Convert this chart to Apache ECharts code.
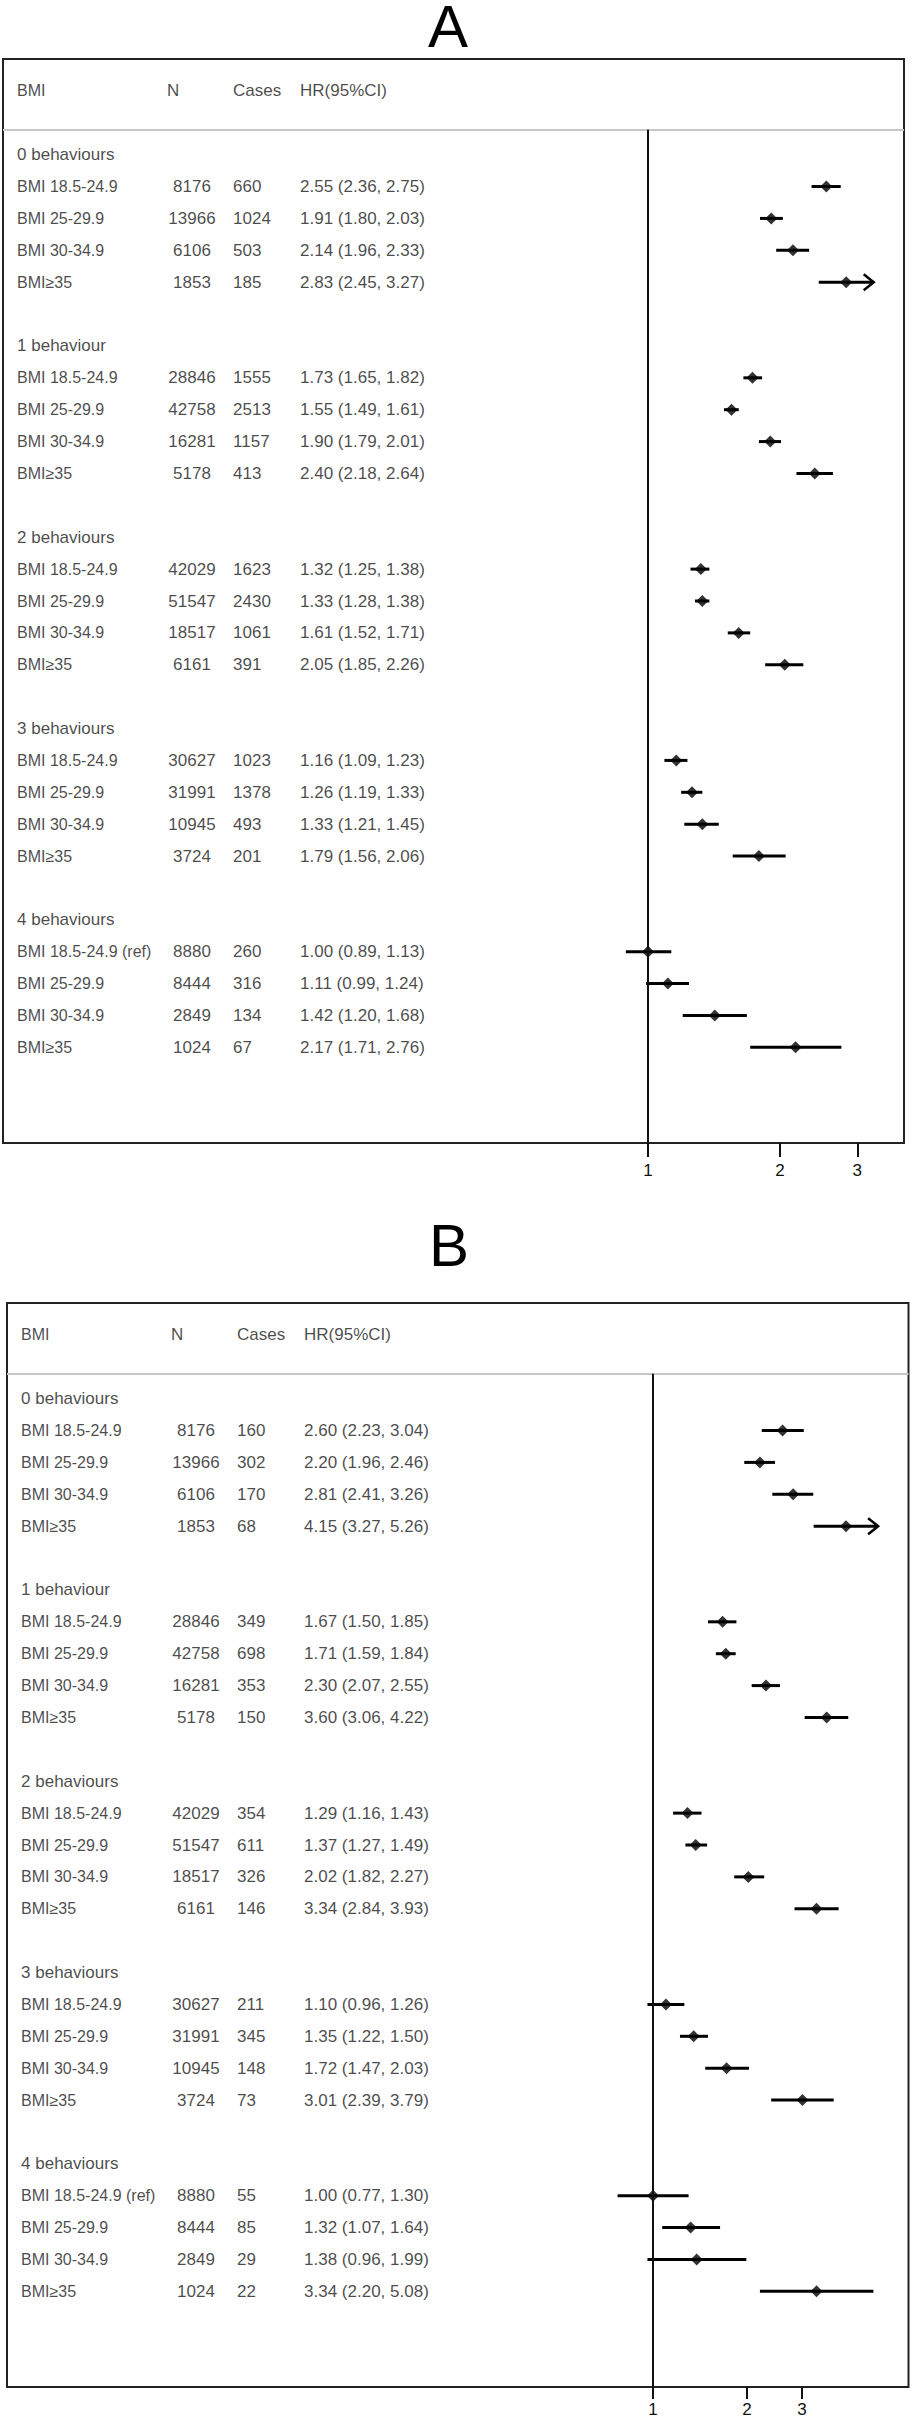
<!DOCTYPE html>
<html>
<head>
<meta charset="utf-8">
<title>BMI and healthy behaviours forest plot</title>
<script src="https://cdn.jsdelivr.net/npm/echarts@6/dist/echarts.min.js"></script>
<style>
  html, body { margin: 0; padding: 0; background: #fff; }
  #chart { width: 913px; height: 2431px; }
</style>
</head>
<body>
<div id="chart"></div>
<script>
// Row labels
const groups = ['0 behaviours', '1 behaviour', '2 behaviours', '3 behaviours', '4 behaviours'];
const bmiCats = ['BMI 18.5-24.9', 'BMI 25-29.9', 'BMI 30-34.9', 'BMI≥35'];
const refRow = 16; // 4 behaviours, BMI 18.5-24.9 is the reference

// Participants per row (same in both panels)
const nTotal = [8176, 13966, 6106, 1853, 28846, 42758, 16281, 5178,
                42029, 51547, 18517, 6161, 30627, 31991, 10945, 3724,
                8880, 8444, 2849, 1024];

// Panel A
const casesA = [660, 1024, 503, 185, 1555, 2513, 1157, 413,
                1623, 2430, 1061, 391, 1023, 1378, 493, 201,
                260, 316, 134, 67];
const hrA = [2.55, 1.91, 2.14, 2.83, 1.73, 1.55, 1.90, 2.40,
             1.32, 1.33, 1.61, 2.05, 1.16, 1.26, 1.33, 1.79,
             1.00, 1.11, 1.42, 2.17];
const loA = [2.36, 1.80, 1.96, 2.45, 1.65, 1.49, 1.79, 2.18,
             1.25, 1.28, 1.52, 1.85, 1.09, 1.19, 1.21, 1.56,
             0.89, 0.99, 1.20, 1.71];
const hiA = [2.75, 2.03, 2.33, 3.27, 1.82, 1.61, 2.01, 2.64,
             1.38, 1.38, 1.71, 2.26, 1.23, 1.33, 1.45, 2.06,
             1.13, 1.24, 1.68, 2.76];
const arrowRowsA = [3];

// Panel B
const casesB = [160, 302, 170, 68, 349, 698, 353, 150,
                354, 611, 326, 146, 211, 345, 148, 73,
                55, 85, 29, 22];
const hrB = [2.60, 2.20, 2.81, 4.15, 1.67, 1.71, 2.30, 3.60,
             1.29, 1.37, 2.02, 3.34, 1.10, 1.35, 1.72, 3.01,
             1.00, 1.32, 1.38, 3.34];
const loB = [2.23, 1.96, 2.41, 3.27, 1.50, 1.59, 2.07, 3.06,
             1.16, 1.27, 1.82, 2.84, 0.96, 1.22, 1.47, 2.39,
             0.77, 1.07, 0.96, 2.20];
const hiB = [3.04, 2.46, 3.26, 5.26, 1.85, 1.84, 2.55, 4.22,
             1.43, 1.49, 2.27, 3.93, 1.26, 1.50, 2.03, 3.79,
             1.30, 1.64, 1.99, 5.08];
const arrowRowsB = [3];

const xTicks = [1, 2, 3];

// Layout
const FONT = "'Liberation Sans', Arial, Helvetica, sans-serif";
const boxHeight = 1084;
const cols = { bmi: 14, nHead: 164, n: 189, cases: 230, hr: 297 };
const panels = [
  { name: 'A', cases: casesA, hr: hrA, lo: loA, hi: hiA, arrows: arrowRowsA,
    left: 3, right: 904, top: 59, refPx: 648, pxPerLn: 190.5,
    titleLeft: 428, titleTop: 3, tickLen: 14, labelMargin: 19 },
  { name: 'B', cases: casesB, hr: hrB, lo: loB, hi: hiB, arrows: arrowRowsB,
    left: 7, right: 908.5, top: 1303, refPx: 653, pxPerLn: 135.6,
    titleLeft: 429, titleTop: 1222, tickLen: 12, labelMargin: 14 }
];

const slotOf = i => Math.floor(i / 4) * 6 + (i % 4) + 1;
const sepSlot = -0.78;

const grids = [], xAxes = [], yAxes = [], series = [], titles = [];

panels.forEach((p, k) => {
  const w = p.right - p.left;
  titles.push({
    text: p.name, left: p.titleLeft, top: p.titleTop, padding: 0,
    textStyle: { fontSize: 60, lineHeight: 46, fontWeight: 'normal', color: '#000', fontFamily: FONT }
  });
  grids.push({
    left: p.left, top: p.top, width: w, height: boxHeight,
    show: true, borderColor: '#222', borderWidth: 2, backgroundColor: 'transparent'
  });
  // HR axis (log)
  xAxes.push({
    type: 'log', gridIndex: k, position: 'bottom',
    min: Math.exp(-(p.refPx - p.left) / p.pxPerLn),
    max: Math.exp((p.right - p.refPx) / p.pxPerLn),
    axisLine: { show: false, onZero: false },
    splitLine: { show: false },
    minorTick: { show: false },
    axisTick: { show: true, customValues: xTicks, length: p.tickLen,
                lineStyle: { color: '#111', width: 2 } },
    axisLabel: { customValues: xTicks, margin: p.labelMargin, fontSize: 17,
                 color: '#111', fontFamily: FONT, formatter: v => String(Math.round(v)) }
  });
  // column layout axis for the table text
  xAxes.push({ type: 'value', gridIndex: k, min: 0, max: w, show: false,
               axisLine: { onZero: false } });
  yAxes.push({ type: 'value', gridIndex: k, inverse: true, min: -3, max: 31, show: false,
               axisLine: { onZero: false } });

  const logX = 2 * k, txtX = 2 * k + 1;

  // confidence intervals
  series.push({
    type: 'custom', xAxisIndex: logX, yAxisIndex: k, silent: true, z: 2,
    data: p.hr.map((v, i) => [p.lo[i], p.hi[i], slotOf(i), p.arrows.includes(i) ? 1 : 0]),
    encode: { x: [0, 1], y: 2 },
    renderItem: (params, api) => {
      const a = api.coord([api.value(0), api.value(2)]);
      const b = api.coord([api.value(1), api.value(2)]);
      const children = [{
        type: 'line',
        shape: { x1: a[0], y1: a[1], x2: b[0], y2: b[1] },
        style: { stroke: '#000', lineWidth: 3 }
      }];
      if (api.value(3)) {
        children.push({
          type: 'polyline',
          shape: { points: [[b[0] - 10, b[1] - 8], [b[0], b[1]], [b[0] - 10, b[1] + 8]] },
          style: { stroke: '#000', fill: null, lineWidth: 2.5 }
        });
      }
      return { type: 'group', children };
    }
  });

  // point estimates + header separator + reference line at HR = 1
  series.push({
    type: 'scatter', xAxisIndex: logX, yAxisIndex: k, silent: true, z: 3,
    symbol: 'diamond', symbolSize: [12, 12],
    itemStyle: { color: '#000' },
    data: p.hr.map((v, i) => [v, slotOf(i)]),
    markLine: {
      silent: true, symbol: ['none', 'none'], label: { show: false },
      data: [
        { yAxis: sepSlot, lineStyle: { color: '#c6c6c6', width: 2, type: 'solid' } },
        [{ coord: [1, sepSlot], lineStyle: { color: '#111', width: 2, type: 'solid' } },
         { coord: [1, 31] }]
      ]
    }
  });

  // table text
  const items = [];
  const push = (x, y, text, label) => items.push(label ? { value: [x, y, text], label } : { value: [x, y, text] });
  push(cols.bmi, -2, 'BMI', { fontSize: 16 });
  push(cols.nHead, -2, 'N');
  push(cols.cases, -2, 'Cases');
  push(cols.hr, -2, 'HR(95%CI)');
  groups.forEach((g, gi) => push(cols.bmi, gi * 6, g));
  nTotal.forEach((n, i) => {
    const s = slotOf(i);
    push(cols.bmi, s, bmiCats[i % 4] + (i === refRow ? ' (ref)' : ''), { fontSize: 16 });
    push(cols.n, s, String(n), { position: 'inside' });
    push(cols.cases, s, String(p.cases[i]));
    push(cols.hr, s, p.hr[i].toFixed(2) + ' (' + p.lo[i].toFixed(2) + ', ' + p.hi[i].toFixed(2) + ')');
  });
  series.push({
    type: 'scatter', xAxisIndex: txtX, yAxisIndex: k, silent: true, clip: false, z: 4,
    symbolSize: 0.1, itemStyle: { color: 'rgba(0,0,0,0)' },
    label: {
      show: true, position: 'right', distance: 0,
      fontSize: 17, color: '#1a1a1a', fontFamily: FONT,
      formatter: prm => prm.value[2]
    },
    data: items
  });
});

const chart = echarts.init(document.getElementById('chart'), null, { renderer: 'svg' });
chart.setOption({
  animation: false,
  backgroundColor: '#fff',
  title: titles,
  grid: grids,
  xAxis: xAxes,
  yAxis: yAxes,
  series: series
});
</script>
</body>
</html>
